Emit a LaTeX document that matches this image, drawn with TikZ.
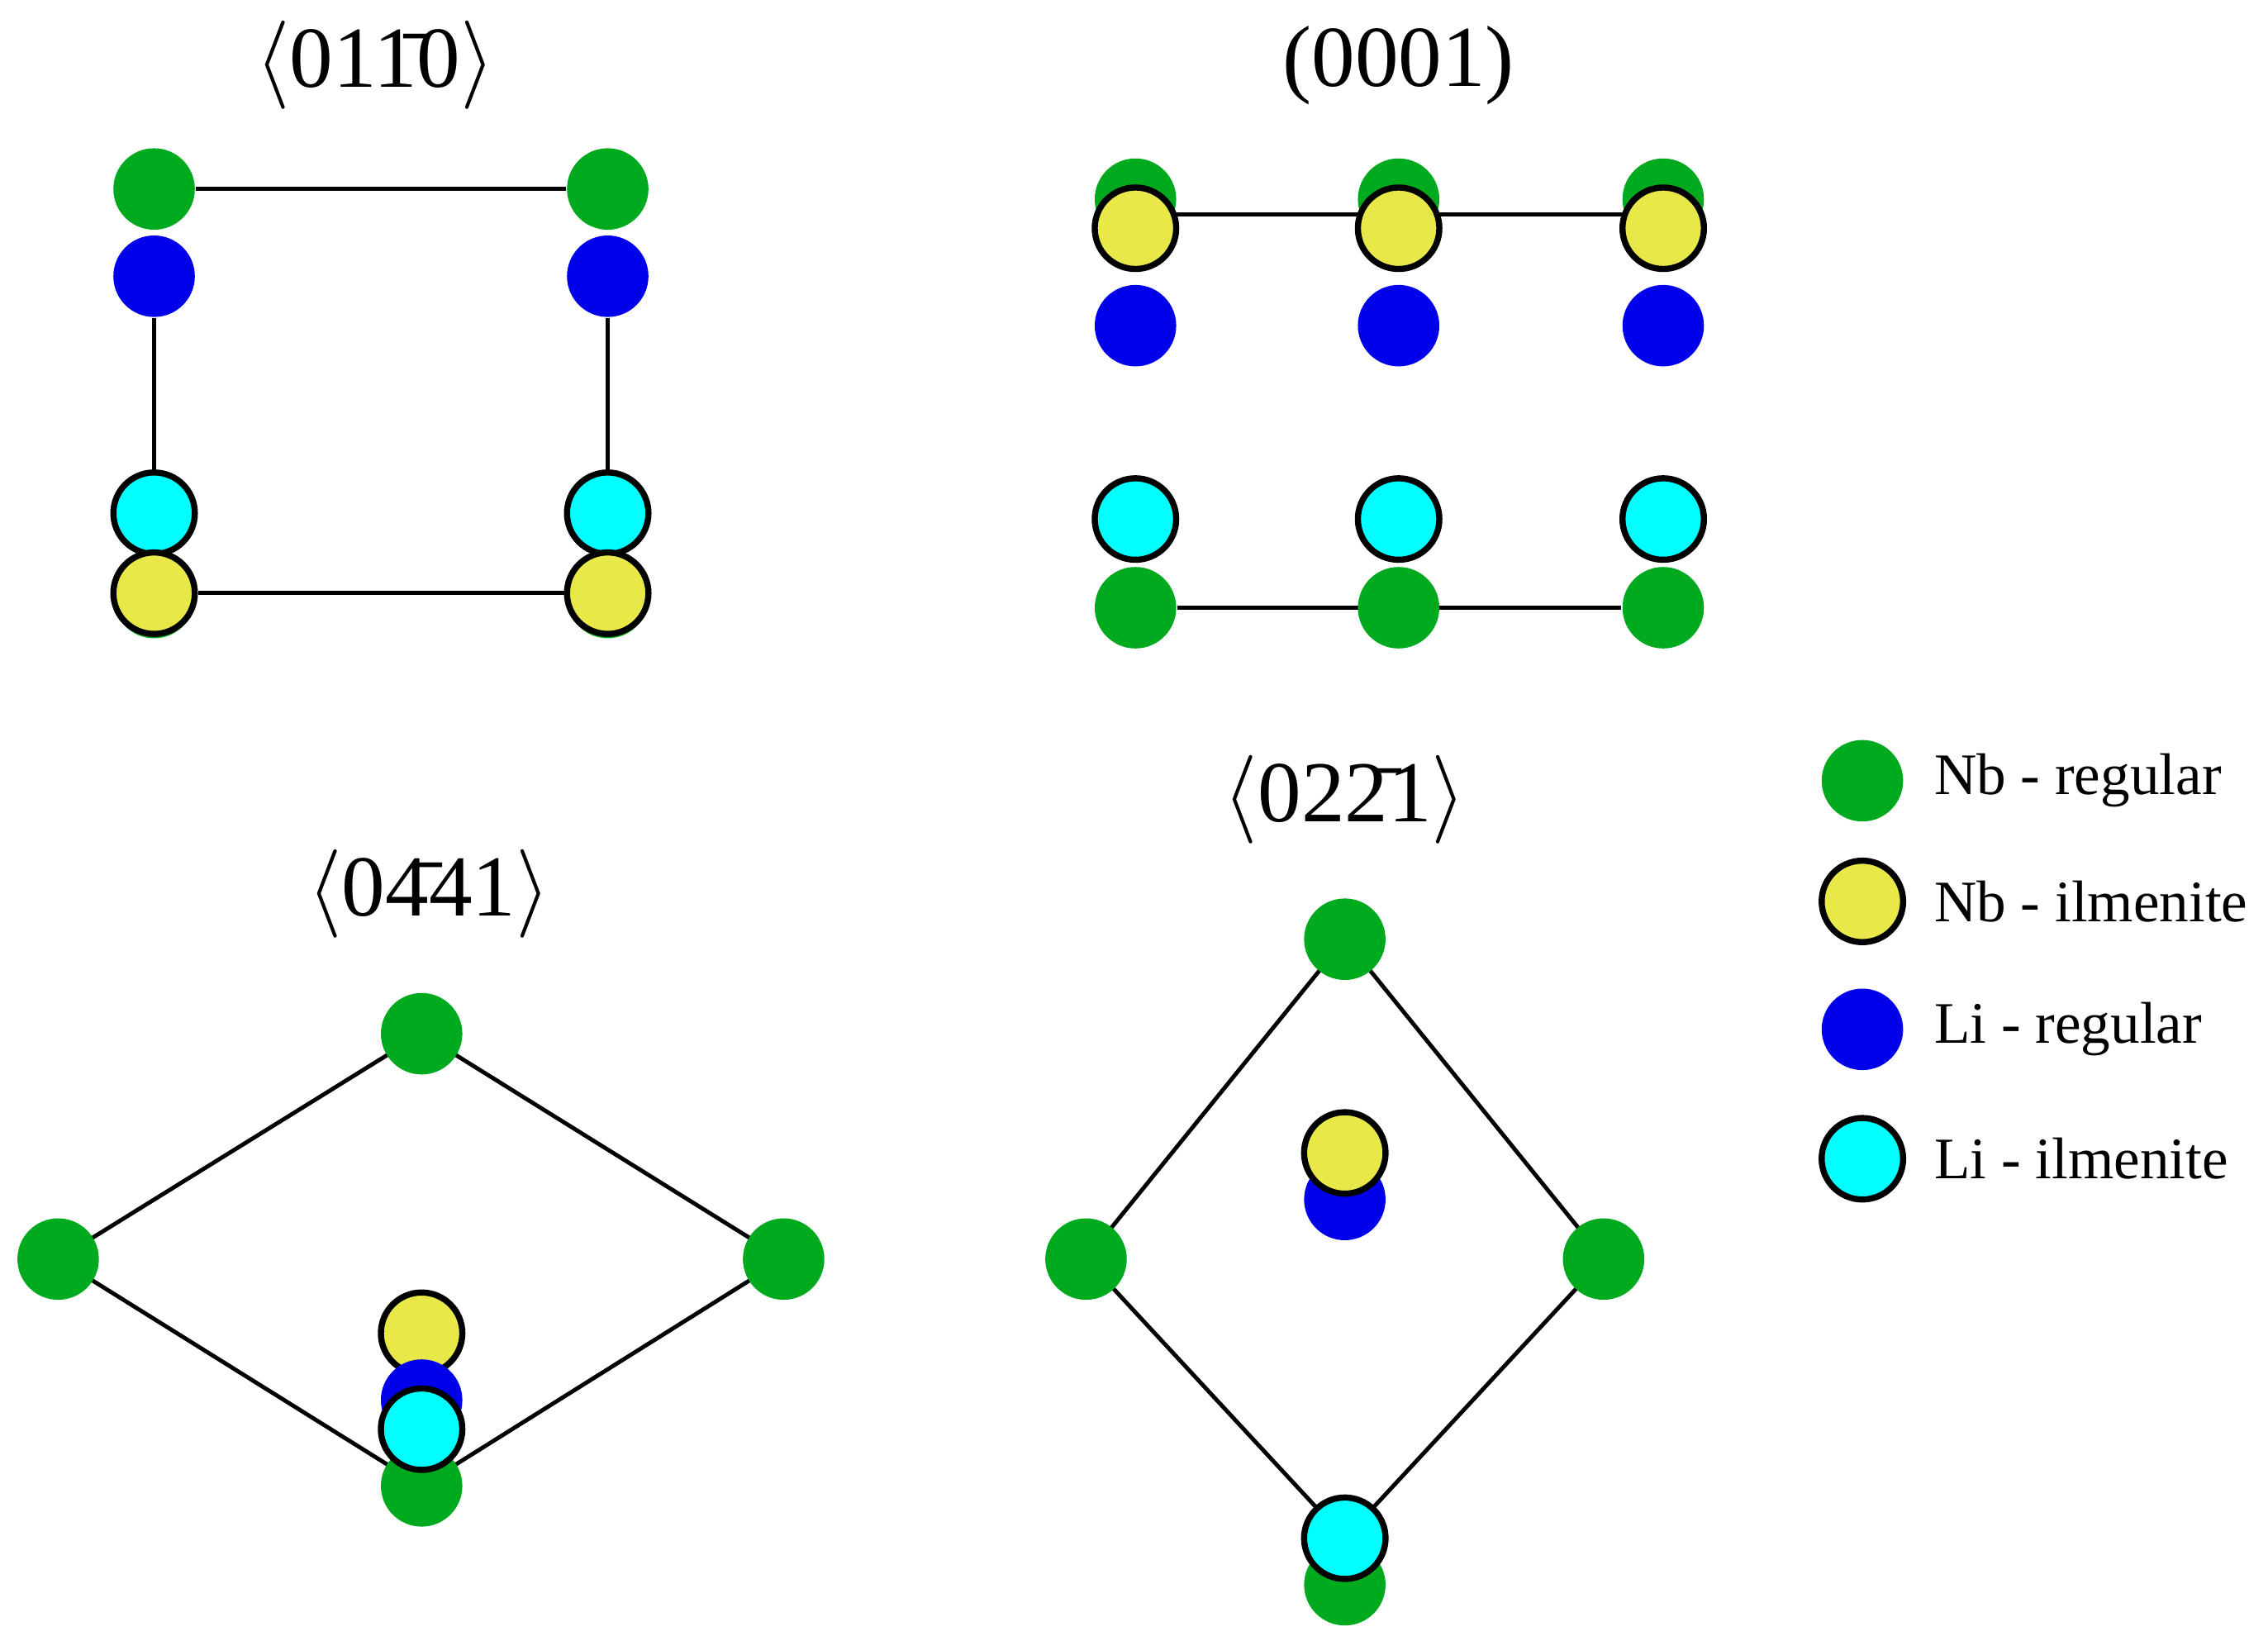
\documentclass[tikz,border=0pt]{standalone}
\usepackage{fontspec}
\setmainfont{Liberation Serif}
\usepackage{tikz}
\usetikzlibrary{backgrounds}
\definecolor{nbreg}{RGB}{0,170,30}
\definecolor{nbilm}{RGB}{232,232,72}
\definecolor{lireg}{RGB}{0,0,235}
\definecolor{liilm}{RGB}{0,255,255}
\tikzset{
  atom/.style={circle, minimum size=0.56cm, inner sep=0pt},
  nbr/.style={atom, fill=nbreg},
  nbi/.style={atom, fill=nbilm, draw=black, line width=1.2pt},
  lir/.style={atom, fill=lireg},
  lii/.style={atom, fill=liilm, draw=black, line width=1.2pt},
  title/.style={font=\fontsize{17}{20}\selectfont},
  legend/.style={font=\fontsize{11.5}{14}\selectfont, anchor=west},
  bond/.style={line width=0.8pt}
}
\begin{document}
\begin{tikzpicture}[x=0.01cm, y=-0.01cm]
    \useasboundingbox (0,0) rectangle (1560,1125);

    % <01-10>
    \node[title] at (258,45) {$\langle$01\=10$\rangle$};
    \node[nbr] (a1) at (106,130) {};
    \node[nbr] (a2) at (418,130) {};
    \node[lir] (a3) at (106,190) {};
    \node[lir] (a4) at (418,190) {};
    \node[nbr] (a9) at (106,411) {};
    \node[nbr] (a10) at (418,411) {};
    \node[lii] (a5) at (106,353) {};
    \node[lii] (a6) at (418,353) {};
    \node[nbi] (a7) at (106,408) {};
    \node[nbi] (a8) at (418,408) {};
    \begin{scope}[on background layer]
        \draw[bond] (a1) -- (a2);
        \draw[bond] (a3) -- (a5);
        \draw[bond] (a4) -- (a6);
        \draw[bond] (a7) -- (a8);
    \end{scope}

    % (0001)
    \node[title] at (962,45) {(0001)};
    \foreach \i/\x in {1/781, 2/962, 3/1144} {
        \node[nbr] (bt\i) at (\x,137) {};
        \node[nbi] (by\i) at (\x,157) {};
        \node[lir] (bb\i) at (\x,224) {};
        \node[lii] (bc\i) at (\x,357) {};
        \node[nbr] (bg\i) at (\x,418) {};
    }
    \begin{scope}[on background layer]
        \draw[bond] ([yshift=-3]bt1.center) -- ([yshift=-3]bt3.center);
        \draw[bond] (bg1) -- (bg3);
    \end{scope}

    % <0-441>
    \node[title] at (295,615) {$\langle$0\=441$\rangle$};
    \node[nbr] (c1) at (290,711) {};
    \node[nbr] (c2) at (40,866) {};
    \node[nbr] (c3) at (539,866) {};
    \node[nbr] (c4) at (290,1022) {};
    \node[nbi] (c5) at (290,917) {};
    \node[lir] (c6) at (290,963) {};
    \node[lii] (c7) at (290,983) {};
    \begin{scope}[on background layer]
        \draw[bond] (c1.center) -- (c2.center) -- (c4.center) -- (c3.center) -- cycle;
    \end{scope}

    % <02-21>
    \node[title] at (925,550) {$\langle$02\=21$\rangle$};
    \node[nbr] (d1) at (925,646) {};
    \node[nbr] (d2) at (747,866) {};
    \node[nbr] (d3) at (1103,866) {};
    \node[nbr] (d4) at (925,1090) {};
    \node[lii] (d5) at (925,1058) {};
    \node[lir] (d6) at (925,825) {};
    \node[nbi] (d7) at (925,793) {};
    \begin{scope}[on background layer]
        \draw[bond] (d1.center) -- (d2.center) -- (d5.center) -- (d3.center) -- cycle;
    \end{scope}

    % legend
    \node[nbr] (l1) at (1281,537) {};
    \node[nbi] (l2) at (1281,620) {};
    \node[lir] (l3) at (1281,708) {};
    \node[lii] (l4) at (1281,797) {};
    \node[legend] at (1318,537) {Nb - regular};
    \node[legend] at (1318,620) {Nb - ilmenite};
    \node[legend] at (1318,708) {Li - regular};
    \node[legend] at (1318,797) {Li - ilmenite};
\end{tikzpicture}
\end{document}
